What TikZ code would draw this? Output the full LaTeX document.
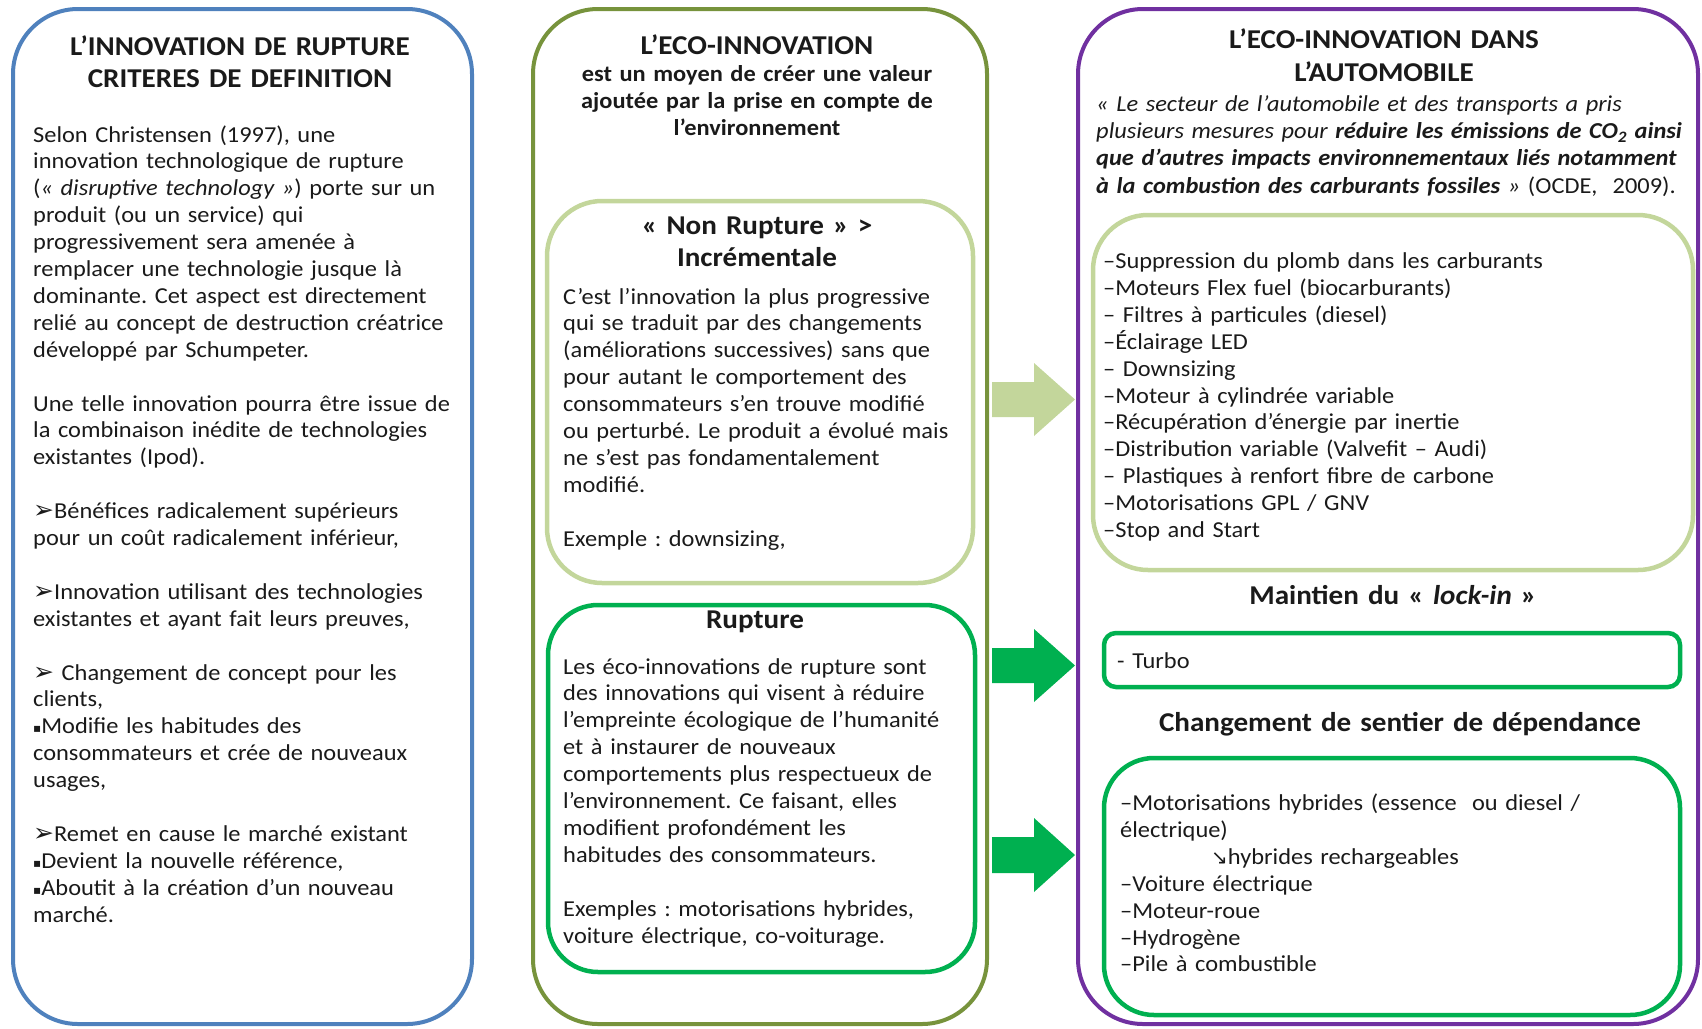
\documentclass[tikz,border=0pt]{standalone}
\usepackage{fontspec}
\setmainfont{Carlito}[FakeStretch=1.07]
\newfontfamily\symfont{DejaVu Sans}
\definecolor{cblue}{HTML}{4F81BD}
\definecolor{colive}{HTML}{77933C}
\definecolor{clight}{HTML}{C3D69B}
\definecolor{cgreen}{HTML}{00B050}
\definecolor{cpurple}{HTML}{7030A0}
\definecolor{ctext}{HTML}{1A1A1A}
\newcommand\myhead{{\symfont\fontsize{25}{26.9}\selectfont ➢}}
\newcommand\mysq{{\symfont\fontsize{12}{26.9}\selectfont\raisebox{1pt}{▪}}}
\newcommand\mydiag{{\symfont\fontsize{20}{26.9}\selectfont ↘}}
\tikzset{
  boxframe/.style={draw, rounded corners=#1, inner sep=0pt, fill=none},
  outerbox/.style={boxframe=65pt, line width=4pt},
  innerbox/.style={boxframe=#1, line width=4.5pt},
  bodytext/.style={inner sep=0pt, text width=#1, align=left, text=ctext,
    font=\frenchspacing\fontsize{22.8}{26.9}\selectfont},
  headtext/.style={inner sep=0pt, text width=#1, align=center, text=ctext,
    font=\frenchspacing\bfseries\fontsize{27.2}{32.5}\selectfont},
  subtext/.style={inner sep=0pt, text width=#1, align=center, text=ctext,
    font=\frenchspacing\bfseries\fontsize{22.8}{27}\selectfont},
}
\begin{document}
\begin{tikzpicture}[x=1pt,y=-1pt]
\useasboundingbox (0,0) rectangle (1702,1028);

% frames
\node[outerbox, draw=cblue, minimum width=459pt, minimum height=1015pt] (leftbox) at (242.5,516.5) {};
\node[outerbox, draw=colive, minimum width=454pt, minimum height=1015pt] (midbox) at (760,516.5) {};
\node[outerbox, draw=cpurple, minimum width=620pt, minimum height=1015pt] (rightbox) at (1388,516.5) {};

\node[innerbox=55pt, draw=clight, minimum width=426pt, minimum height=382pt] (nonbox) at (760,392) {};
\node[innerbox=50pt, draw=cgreen, minimum width=427pt, minimum height=367pt] (ruptbox) at (761.5,788.5) {};
\node[innerbox=55pt, draw=clight, minimum width=600pt, minimum height=355pt] (autobox) at (1393,392.5) {};
\node[innerbox=12pt, draw=cgreen, minimum width=576pt, minimum height=54pt] (turbobox) at (1392,660) {};
\node[innerbox=50pt, draw=cgreen, minimum width=576pt, minimum height=257pt] (pathbox) at (1392,886.5) {};

% block arrows
\fill[clight] (992,382) -- (1034,382) -- (1034,363) -- (1075,399.5) -- (1034,436) -- (1034,417) -- (992,417) -- cycle;
\fill[cgreen] (992,648) -- (1034,648) -- (1034,629) -- (1075,665.5) -- (1034,702) -- (1034,683) -- (992,683) -- cycle;
\fill[cgreen] (992,837) -- (1034,837) -- (1034,818) -- (1075,855) -- (1034,892) -- (1034,873) -- (992,873) -- cycle;

% left column
\node[headtext=460pt, anchor=base] (lefttitle) at (240,55) {L’INNOVATION DE RUPTURE\\CRITERES DE DEFINITION};
\node[bodytext=445pt, anchor=base west] (leftbody) at (33,142) {%
Selon Christensen (1997), une\\
innovation technologique de rupture\\
(\textit{« disruptive technology »}) porte sur un\\
produit (ou un service) qui\\
progressivement sera amenée à\\
remplacer une technologie jusque là\\
dominante. Cet aspect est directement\\
relié au concept de destruction créatrice\\
développé par Schumpeter.\\[26.9pt]
Une telle innovation pourra être issue de\\
la combinaison inédite de technologies\\
existantes (Ipod).\\[26.9pt]
\myhead Bénéfices radicalement supérieurs\\
pour un coût radicalement inférieur,\\[26.9pt]
\myhead Innovation utilisant des technologies\\
existantes et ayant fait leurs preuves,\\[26.9pt]
\myhead{} Changement de concept pour les\\
clients,\\
\mysq Modifie les habitudes des\\
consommateurs et crée de nouveaux\\
usages,\\[26.9pt]
\myhead Remet en cause le marché existant\\
\mysq Devient la nouvelle référence,\\
\mysq Aboutit à la création d’un nouveau\\
marché.};

% middle column
\node[headtext=440pt, anchor=base] (midtitle) at (757,54) {L’ECO-INNOVATION};
\node[subtext=440pt, anchor=base] (midsub) at (757,81.5) {est un moyen de créer une valeur\\ajoutée par la prise en compte de\\l’environnement};
\node[headtext=420pt, anchor=base] (nontitle) at (757,234) {« Non Rupture » >\\Incrémentale};
\node[bodytext=405pt, anchor=base west] (nonbody) at (563,304) {%
C’est l’innovation la plus progressive\\
qui se traduit par des changements\\
(améliorations successives) sans que\\
pour autant le comportement des\\
consommateurs s’en trouve modifié\\
ou perturbé. Le produit a évolué mais\\
ne s’est pas fondamentalement\\
modifié.\\[26.9pt]
Exemple : downsizing,};
\node[headtext=420pt, anchor=base] (rupttitle) at (755,628) {Rupture};
\node[bodytext=405pt, anchor=base west] (ruptbody) at (563,674) {%
Les éco-innovations de rupture sont\\
des innovations qui visent à réduire\\
l'empreinte écologique de l’humanité\\
et à instaurer de nouveaux\\
comportements plus respectueux de\\
l’environnement. Ce faisant, elles\\
modifient profondément les\\
habitudes des consommateurs.\\[26.9pt]
Exemples : motorisations hybrides,\\
voiture électrique, co-voiturage.};

% right column
\node[headtext=600pt, anchor=base, font=\frenchspacing\bfseries\fontsize{27.2}{33}\selectfont] (righttitle) at (1384,48.5) {L’ECO-INNOVATION DANS\\L’AUTOMOBILE};
\node[bodytext=600pt, anchor=base west, font=\frenchspacing\fontsize{22.8}{27.2}\selectfont] (quote) at (1096,111.5) {%
\textit{« Le secteur de l’automobile et des transports a pris}\\
\textit{plusieurs mesures pour \textbf{réduire les émissions de CO\textsubscript{2} ainsi}}\\
\textit{\textbf{que d’autres impacts environnementaux liés notamment}}\\
\textit{\textbf{à la combustion des carburants fossiles} »} (OCDE,~ 2009).};
\node[bodytext=580pt, anchor=base west] (autolist) at (1103,268.5) {%
–Suppression du plomb dans les carburants\\
–Moteurs Flex fuel (biocarburants)\\
– Filtres à particules (diesel)\\
–Éclairage LED\\
– Downsizing\\
–Moteur à cylindrée variable\\
–Récupération d’énergie par inertie\\
–Distribution variable (Valvefit – Audi)\\
– Plastiques à renfort fibre de carbone\\
–Motorisations GPL / GNV\\
–Stop and Start};
\node[headtext=600pt, anchor=base] (lockin) at (1393,604) {Maintien du « \textit{lock-in} »};
\node[bodytext=400pt, anchor=base west] (turbotext) at (1117,668.5) {- Turbo};
\node[headtext=600pt, anchor=base] (chgtitle) at (1400,731) {Changement de sentier de dépendance};
\node[bodytext=560pt, anchor=base west] (pathlist) at (1120,810.5) {%
–Motorisations hybrides (essence~ ou diesel /\\
électrique)\\
\hspace*{91pt}\mydiag hybrides rechargeables\\
–Voiture électrique\\
–Moteur-roue\\
–Hydrogène\\
–Pile à combustible};
\end{tikzpicture}
\end{document}
